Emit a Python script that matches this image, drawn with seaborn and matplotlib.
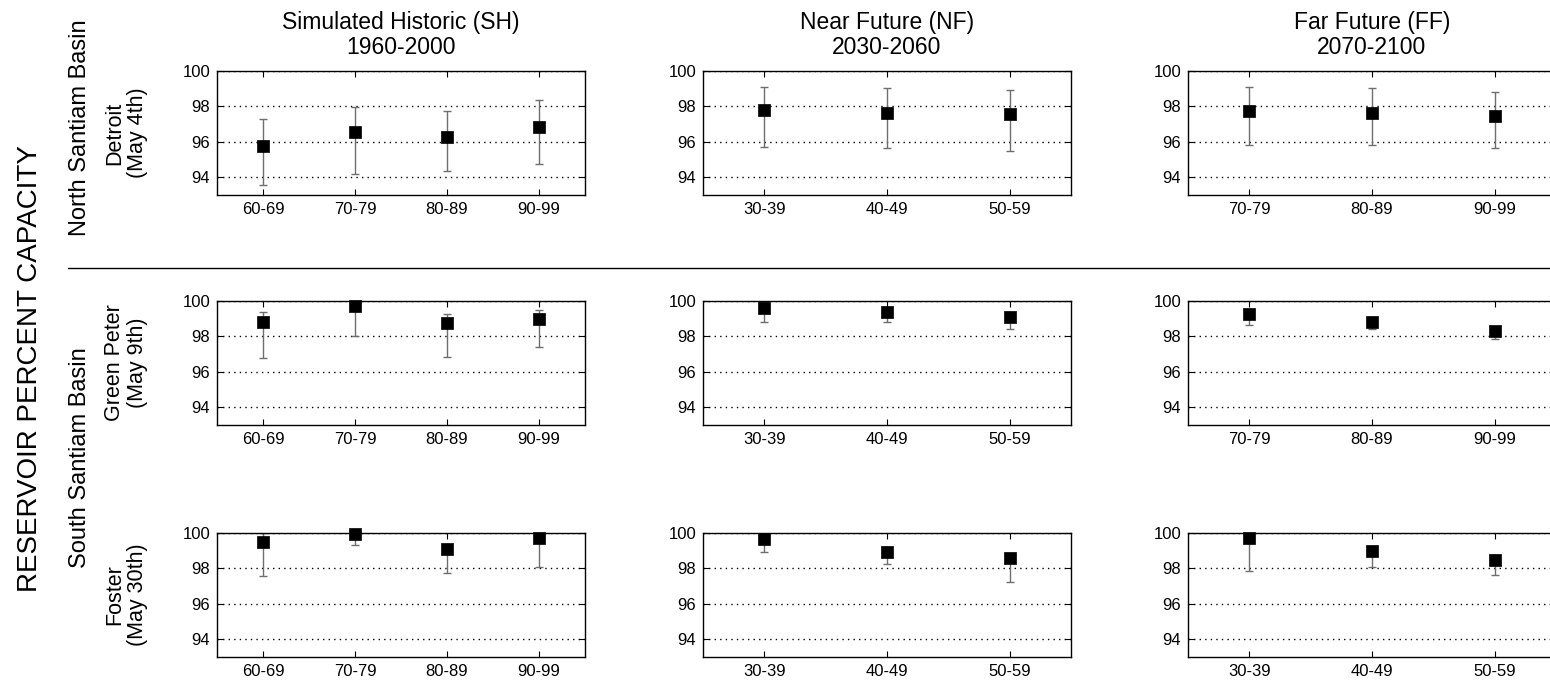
import numpy as np
import pandas as pd
import matplotlib
matplotlib.use('Agg')
import matplotlib.pyplot as plt
import seaborn as sns

# decade labels per period
sh_periods = ['60-69', '70-79', '80-89', '90-99']
nf_periods = ['30-39', '40-49', '50-59']
ff_periods_top = ['70-79', '80-89', '90-99']
ff_periods_bot = ['70-79', '80-89', '90-99']
ff_periods_foster = ['30-39', '40-49', '50-59']

# Detroit (May 4th)
det_sh_mean = [95.74, 96.53, 96.29, 96.86]
det_sh_lo = [93.56, 94.20, 94.37, 94.77]
det_sh_hi = [97.29, 97.94, 97.73, 98.37]
det_nf_mean = [97.82, 97.65, 97.60]
det_nf_lo = [95.72, 95.64, 95.51]
det_nf_hi = [99.11, 99.02, 98.94]
det_ff_mean = [97.73, 97.65, 97.44]
det_ff_lo = [95.80, 95.80, 95.64]
det_ff_hi = [99.11, 99.02, 98.80]

# Green Peter (May 9th)
gp_sh_mean = [98.84, 99.72, 98.76, 98.99]
gp_sh_lo = [96.77, 98.05, 96.83, 97.41]
gp_sh_hi = [99.40, 100.0, 99.27, 99.47]
gp_nf_mean = [99.60, 99.38, 99.10]
gp_nf_lo = [98.80, 98.82, 98.43]
gp_nf_hi = [99.95, 99.65, 99.40]
gp_ff_mean = [99.25, 98.84, 98.28]
gp_ff_lo = [98.65, 98.41, 97.85]
gp_ff_hi = [99.50, 99.10, 98.55]

# Foster (May 30th)
fo_sh_mean = [99.47, 99.96, 99.09, 99.73]
fo_sh_lo = [97.59, 99.33, 97.76, 98.06]
fo_sh_hi = [100.0, 100.0, 99.35, 100.0]
fo_nf_mean = [99.68, 98.95, 98.60]
fo_nf_lo = [98.95, 98.25, 97.24]
fo_nf_hi = [100.0, 99.20, 98.85]
fo_ff_mean = [99.71, 98.98, 98.48]
fo_ff_lo = [97.88, 98.06, 97.62]
fo_ff_hi = [100.0, 99.25, 98.75]

col_titles = ['Simulated Historic (SH)\n1960-2000',
              'Near Future (NF)\n2030-2060',
              'Far Future (FF)\n2070-2100']
row_labels = ['Detroit\n(May 4th)', 'Green Peter\n(May 9th)', 'Foster\n(May 30th)']

panels = [
    [(sh_periods, det_sh_mean, det_sh_lo, det_sh_hi),
     (nf_periods, det_nf_mean, det_nf_lo, det_nf_hi),
     (ff_periods_top, det_ff_mean, det_ff_lo, det_ff_hi)],
    [(sh_periods, gp_sh_mean, gp_sh_lo, gp_sh_hi),
     (nf_periods, gp_nf_mean, gp_nf_lo, gp_nf_hi),
     (ff_periods_bot, gp_ff_mean, gp_ff_lo, gp_ff_hi)],
    [(sh_periods, fo_sh_mean, fo_sh_lo, fo_sh_hi),
     (nf_periods, fo_nf_mean, fo_nf_lo, fo_nf_hi),
     (ff_periods_foster, fo_ff_mean, fo_ff_lo, fo_ff_hi)],
]

sns.set_style('white')
plt.rcParams['font.family'] = ['Liberation Sans', 'DejaVu Sans']
plt.rcParams['text.color'] = 'black'
plt.rcParams['axes.labelcolor'] = 'black'

fig = plt.figure(figsize=(15.5, 6.82), dpi=100)

lefts = [217 / 1550, 703 / 1550, 1188 / 1550]
tops = [71, 301, 533]
w = 368 / 1550
h = 124 / 682

for r in range(3):
    for c in range(3):
        periods, mean, lo, hi = panels[r][c]
        ax = fig.add_axes([lefts[c], 1 - (tops[r] + 124) / 682, w, h])
        df = pd.DataFrame({'period': periods, 'mean': mean, 'lo': lo, 'hi': hi})
        xpos = np.arange(len(df))
        ax.errorbar(xpos, df['mean'],
                    yerr=[df['mean'] - df['lo'], df['hi'] - df['mean']],
                    fmt='none', ecolor='#6e6e6e', elinewidth=1.0,
                    capsize=3, capthick=1.0, zorder=2)
        sns.scatterplot(data=df, x=xpos, y='mean', marker='s', s=72,
                        color='black', edgecolor='black', linewidth=0.5,
                        ax=ax, zorder=3, legend=False, clip_on=False)
        ax.set_xlim(-0.5, len(df) - 0.5)
        ax.set_ylim(93, 100)
        ax.set_xticks(xpos)
        ax.set_xticklabels(periods)
        ax.set_yticks([94, 96, 98, 100])
        ax.yaxis.grid(True, linestyle=(0, (1, 3)), color='black', linewidth=1.0)
        ax.xaxis.grid(False)
        ax.set_axisbelow(True)
        ax.set_xlabel('')
        ax.set_ylabel('')
        ax.tick_params(direction='in', bottom=True, left=True, top=True, right=True,
                       length=4, width=0.8, labelsize=12, colors='black', pad=5)
        for sp in ax.spines.values():
            sp.set_visible(True)
            sp.set_color('black')
            sp.set_linewidth(1.0)
        if r == 0:
            ax.set_title(col_titles[c], fontsize=16.5, pad=12, linespacing=1.15,
                         color='black')

# row labels
row_centers = [133, 363, 595]
for r in range(3):
    fig.text(126 / 1550, 1 - row_centers[r] / 682, row_labels[r], rotation=90,
             ha='center', va='center', fontsize=15.5, linespacing=1.1,
             multialignment='center')

fig.text(80 / 1550, 1 - 128 / 682, 'North Santiam Basin', rotation=90,
         ha='center', va='center', fontsize=17)
fig.text(80 / 1550, 1 - 458 / 682, 'South Santiam Basin', rotation=90,
         ha='center', va='center', fontsize=17)
fig.text(30 / 1550, 1 - 369 / 682, 'RESERVOIR PERCENT CAPACITY', rotation=90,
         ha='center', va='center', fontsize=20)

fig.add_artist(plt.Line2D([68 / 1550, 1.0], [1 - 268 / 682, 1 - 268 / 682],
                          color='black', linewidth=1.0))

fig.savefig('out.png', dpi=100, facecolor='white')
